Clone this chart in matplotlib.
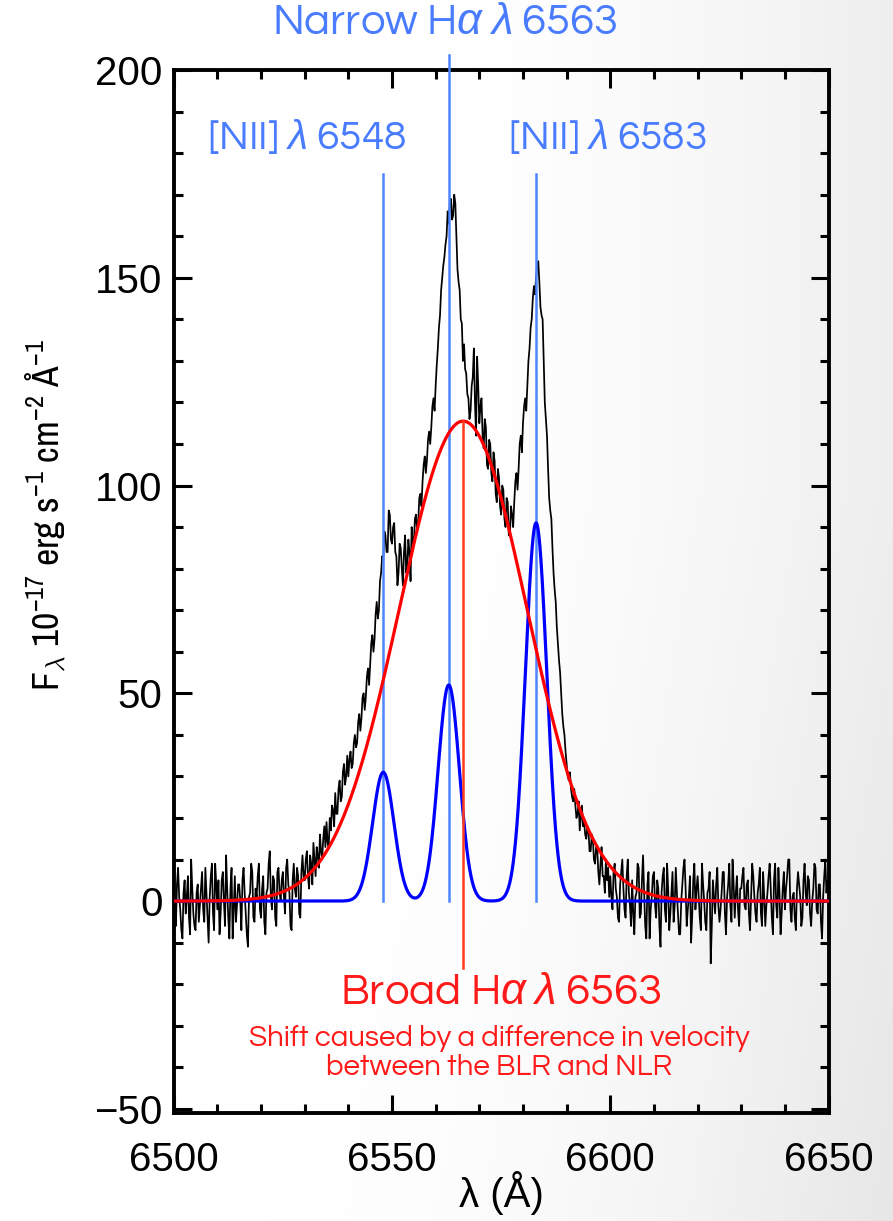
import numpy as np
import matplotlib
matplotlib.use('Agg')
import matplotlib.pyplot as plt
from matplotlib import font_manager

# ---------------- data ----------------
flux_start = 6500.0      # Angstrom
flux_step = 0.25         # Angstrom
flux = [
    3, -2, -6, 4, 8, 1, -2, -7, -9, 2,
    5, -3, 1, 6, -4, -8, 10, 3, -3, -6,
    -7, 2, 4, -5, -1, 3, 7, -2, -5, 8,
    2, -4, -10, 1, 6, 9, -3, -7, 9, 4,
    -2, 5, -8, -3, 5, 7, 0, -6, 11, 3,
    -4, -9, 3, 8, -9, -2, 6, -5, -1, 4,
    4, 0, -7, 5, 8, 2, -3, -8, -11, 1,
    2, 9, 7, -4, -5, 3, 1, 6, 9, -2,
    -4, 3, 6, -5, -8, 2, 3, 9, 12, 1,
    -2, 6, 5, -4, -6, 7, 8, 2, 0, 5,
    7, 1, -3, 8, 10, 4, 2, -6, -7, 5,
    9, 3, 1, 8, 6, -3, -4, 7, 11, 6,
    5, 10, 12, 6, 3, 11, 9, 4, 14, 10,
    6, 13, 11, 8, 16, 12, 10, 15, 18, 13,
    19, 14, 13, 20, 17, 23, 22, 18, 26, 21,
    21, 27, 29, 24, 25, 31, 33, 28, 30, 35,
    30, 34, 36, 32, 33, 38, 40, 37, 38, 43,
    45, 41, 44, 49, 50, 46, 49, 54, 56, 52,
    57, 62, 64, 60, 63, 69, 72, 68, 70, 77,
    79, 83, 82, 89, 88, 84, 84, 94, 93, 87,
    86, 90, 91, 84, 83, 76, 79, 86, 85, 80,
    76, 84, 88, 79, 81, 87, 84, 77, 90, 86,
    86, 92, 93, 89, 91, 97, 98, 95, 101, 105,
    107, 103, 106, 111, 113, 110, 114, 119, 121, 118,
    124, 129, 133, 138, 141, 147, 150, 153, 155, 158,
    160, 166, 163, 168, 169, 164, 165, 170, 168, 160,
    152, 149, 147, 140, 139, 130, 134, 128, 127, 122,
    121, 116, 118, 124, 126, 133, 120, 112, 131, 124,
    115, 119, 121, 112, 109, 116, 114, 105, 104, 111,
    110, 103, 101, 108, 106, 98, 96, 104, 102, 95,
    93, 100, 99, 92, 90, 97, 96, 88, 88, 95,
    93, 90, 96, 101, 103, 99, 104, 110, 112, 108,
    115, 119, 121, 118, 124, 130, 133, 138, 140, 145,
    148, 146, 150, 153, 154, 149, 143, 141, 140, 130,
    120, 116, 112, 104, 97, 94, 92, 85, 79, 75,
    72, 66, 62, 58, 55, 50, 45, 42, 40, 36,
    33, 30, 29, 31, 27, 25, 24, 27, 23, 20,
    21, 24, 17, 20, 23, 18, 19, 16, 15, 18,
    17, 12, 12, 16, 15, 10, 9, 13, 13, 7,
    4, 9, 13, 6, 6, 2, 10, 5, 8, 1,
    6, 1, -2, 7, 9, 3, 1, -4, -5, 4,
    7, 10, 3, -2, -4, 6, 10, 2, -1, -6,
    5, -3, -8, 1, 2, 9, 8, -4, -3, 5,
    11, 2, -6, -9, 4, 7, -9, -2, 1, 6,
    7, -1, -4, 5, 3, -6, -11, 2, 6, 8,
    -2, -5, 9, 3, -7, -3, 2, 7, -5, -1,
    8, 2, -3, -8, -8, 0, 4, 8, 10, 3,
    -6, -2, 1, 6, -10, -4, 5, 9, -2, 3,
    6, 1, -4, -7, 9, 4, 0, -5, -7, 2,
    3, 7, -15, -6, 5, 1, -3, 4, 8, -1,
    -5, -2, 2, 7, 7, -3, -8, 1, 4, 9,
    -1, -5, 10, 4, -4, 2, 6, -2, -6, 3,
    3, 6, 8, -1, -2, 4, 5, -3, -7, 1,
    9, 6, 1, -3, -5, 2, 4, 8, -3, -6,
    7, 1, -6, -1, 2, 6, 9, 3, -4, -8,
    5, 9, -1, -4, 8, 2, -8, -3, 3, 7,
    -2, 3, 6, 10, 10, -2, -5, 1, 2, -4,
    -7, 3, 7, 4, 1, -6, -4, 5, 9, 2,
    -1, 6, 5, -3, -6, 0, 3, 9, 8, -2,
    -3, 4, 4, -5, -9, 1, 6, 10, 2, 5,
    3,
]

narrow_centers = [6548.0, 6563.0, 6583.0]
narrow_amps = [31.0, 52.0, 91.0]
narrow_sigma = 2.45
broad_center = 6566.3
broad_amp = 115.5
broad_sigma = 14.7

marker_waves = [6548.0, 6563.0, 6583.0]
marker_tops = [175.0, 203.5, 175.0]
broad_marker_bottom = -16.0

x_ticks = [6500, 6550, 6600, 6650]
y_ticks = [-50, 0, 50, 100, 150, 200]
x_range = (6500, 6650)
y_range = (-51, 200)

label_narrow = r'Narrow H$\alpha$ $\lambda$ 6563'
label_n1 = r'[NII] $\lambda$ 6548'
label_n2 = r'[NII] $\lambda$ 6583'
label_broad = r'Broad H$\alpha$ $\lambda$ 6563'
label_shift = 'Shift caused by a difference in velocity\nbetween the BLR and NLR'
x_label = 'λ (Å)'
y_label = r'F$_{\mathrm{\lambda}}$ 10$^{-17}$ erg s$^{-1}$ cm$^{-2}$ Å$^{-1}$'

# ---------------- fonts ----------------
names = {f.name for f in font_manager.fontManager.ttflist}
def pick(prefs, default):
    for p in prefs:
        if p in names:
            return p
    return default

NARROW = pick(['Liberation Sans Narrow', 'Arial Narrow', 'Archivo Narrow',
               'PT Sans Narrow', 'Roboto Condensed', 'Pragati Narrow'], 'Liberation Sans')
GOTHIC = pick(['Century Gothic', 'URW Gothic', 'URW Gothic L', 'Questrial',
               'Didact Gothic', 'Jost', 'Lato'], 'Lato')

plt.rcParams['font.family'] = ['Liberation Sans', 'DejaVu Sans']
plt.rcParams['mathtext.fontset'] = 'custom'
plt.rcParams['mathtext.rm'] = NARROW
plt.rcParams['mathtext.it'] = 'Liberation Sans:italic'
plt.rcParams['mathtext.sf'] = 'Liberation Sans'
plt.rcParams['mathtext.bf'] = 'Liberation Sans:bold'

W, H = 893, 1221
fig = plt.figure(figsize=(W / 100, H / 100), dpi=100)

# background gradient (white -> light grey on the right)
bg = fig.add_axes([0, 0, 1, 1], zorder=-10)
xx, yy = np.meshgrid(np.linspace(0, 1, 300), np.linspace(0, 1, 300))
g = 1 - 0.065 * np.clip((xx - 0.5) / 0.5, 0, 1) ** 1.5 \
      - 0.03 * np.clip((yy - 0.4) / 0.6, 0, 1) * np.clip((xx - 0.3) / 0.7, 0, 1)
bg.imshow(np.dstack([g, g, g]), extent=[0, 1, 0, 1], aspect='auto', origin='upper')
bg.axis('off')

ax = fig.add_axes([173.7 / W, 1 - 1113 / H, (828.6 - 173.7) / W, (1113 - 70) / H])
ax.set_facecolor('none')

wave = flux_start + flux_step * np.arange(len(flux))
ax.plot(wave, flux, color='black', lw=1.25, zorder=2)

LIGHTBLUE = '#4d86ff'
for wv, top in zip(marker_waves, marker_tops):
    ax.plot([wv, wv], [0, top], color=LIGHTBLUE, lw=1.8, zorder=3, clip_on=False)

xm = np.linspace(x_range[0], x_range[1], 3001)
narrow = np.zeros_like(xm)
for c, a in zip(narrow_centers, narrow_amps):
    narrow += a * np.exp(-0.5 * ((xm - c) / narrow_sigma) ** 2)
ax.plot(xm, narrow, color='#0000ff', lw=2.3, zorder=4)

broad = broad_amp * np.exp(-0.5 * ((xm - broad_center) / broad_sigma) ** 2)
ax.plot(xm, broad, color='#ff0000', lw=2.3, zorder=5)
ax.plot([broad_center, broad_center], [broad_marker_bottom, broad_amp],
        color='#ff3b1a', lw=1.8, zorder=6)

ax.set_xlim(*x_range)
ax.set_ylim(*y_range)
ax.set_xticks(x_ticks)
ax.set_yticks(y_ticks)
ax.set_xticks(np.arange(6510, 6650, 10), minor=True)
ax.set_yticks(np.arange(-50, 201, 10), minor=True)
for s in ax.spines.values():
    s.set_linewidth(2.8)
ax.tick_params(which='both', direction='in', top=True, right=True, width=2.2)
ax.tick_params(which='major', length=13, labelsize=29)
ax.tick_params(axis='x', which='major', pad=20)
ax.tick_params(axis='y', which='major', pad=8)
ax.tick_params(which='minor', length=6.5)

# ---------------- texts ----------------
def ftext(x, y, s, **kw):
    return fig.text(x / W, 1 - y / H, s, ha='center', va='center', **kw)

BLUE_T = '#4a7cff'
RED_T = '#ff1a1a'
GFAM = [GOTHIC, 'Lato', 'DejaVu Sans']
t_narrow = ftext(445, 24, label_narrow, color=BLUE_T, fontsize=22, family=GFAM)
t_n1 = ftext(307, 137, label_n1, color=BLUE_T, fontsize=22, family=GFAM)
t_n2 = ftext(607, 137, label_n2, color=BLUE_T, fontsize=22, family=GFAM)
t_broad = ftext(501, 993, label_broad, color=RED_T, fontsize=22, family=GFAM)
t_shift = ftext(499, 1053, label_shift, color=RED_T, fontsize=13, linespacing=1.1,
                family=GFAM)
t_xl = ftext(501, 1193, x_label, color='black', fontsize=29)
t_yl = fig.text(46 / W, 1 - 515 / H, y_label, rotation=90, ha='center', va='center',
                fontsize=28, color='black', family=[NARROW, 'DejaVu Sans'])

fig.canvas.draw()
r = fig.canvas.get_renderer()
def fit(t, target, dim='w'):
    bb = t.get_window_extent(renderer=r)
    cur = bb.width if dim == 'w' else bb.height
    t.set_fontsize(t.get_fontsize() * target / cur)

fit(t_narrow, 346)
fit(t_n1, 200)
fit(t_n2, 199)
fit(t_broad, 322)
fit(t_shift, 500)
fit(t_yl, 352, 'h')

fig.savefig('out.png', dpi=100)
